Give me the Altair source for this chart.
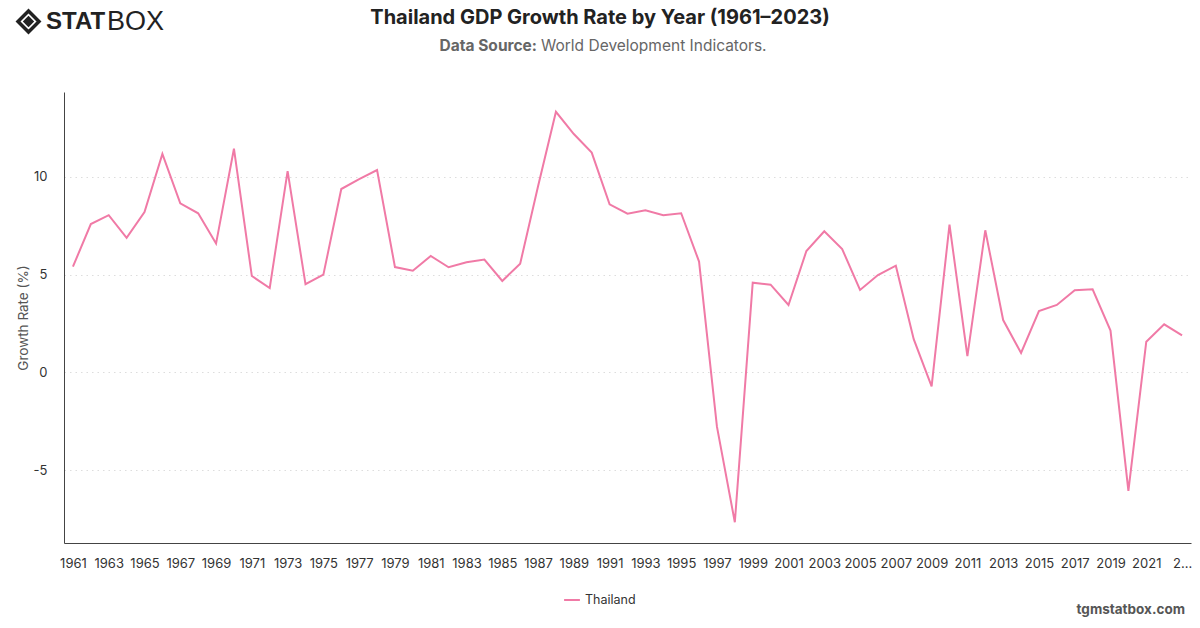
import altair as alt
import pandas as pd

# Thailand annual GDP growth (%), World Development Indicators
years = list(range(1961, 2024))
growth = [
    5.41, 7.59, 8.04, 6.88, 8.20, 11.17, 8.65, 8.14, 6.59, 11.44,
    4.93, 4.32, 10.29, 4.51, 5.00, 9.38, 9.88, 10.35, 5.39, 5.20,
    5.96, 5.38, 5.63, 5.77, 4.68, 5.56, 9.52, 13.33, 12.19, 11.24,
    8.60, 8.12, 8.29, 8.04, 8.14, 5.67, -2.77, -7.66, 4.59, 4.49,
    3.45, 6.21, 7.22, 6.31, 4.22, 4.98, 5.46, 1.70, -0.71, 7.56,
    0.83, 7.27, 2.68, 1.00, 3.14, 3.45, 4.20, 4.25, 2.14, -6.06,
    1.57, 2.46, 1.90,
]
country = "Thailand"
y_ticks = [-5, 0, 5, 10]

title_text = "Thailand GDP Growth Rate by Year (1961\u20132023)"
source_label = "Data Source:"
source_text = "World Development Indicators."
brand_bold = "STAT"
brand_light = "BOX"
site_text = "tgmstatbox.com"

LINE = "#F07AA6"
FONT = "Inter"
W, H = 1127, 451

df = pd.DataFrame({"year": years, "growth": growth, "country": country})
one = pd.DataFrame({"k": [0]})

line = alt.Chart(df).mark_line(strokeWidth=2).encode(
    x=alt.X(
        "year:O",
        scale=alt.Scale(padding=0.5),
        axis=alt.Axis(
            title=None,
            labelAngle=0,
            labelExpr="(datum.value - 1961) % 2 == 0 ? (datum.value == 2023 ? '2...' : datum.label) : ''",
            labelPadding=14,
            labelFontSize=13,
            labelColor="#333333",
            labelFont=FONT,
            labelOverlap=False,
            ticks=False,
            domainColor="#444444",
            grid=False,
        ),
    ),
    y=alt.Y(
        "growth:Q",
        scale=alt.Scale(domain=[-8.72, 14.34], nice=False, zero=False),
        axis=alt.Axis(
            title="Growth Rate (%)",
            values=y_ticks,
            labelExpr="'' + datum.value",
            labelPadding=17,
            labelFontSize=13,
            labelColor="#333333",
            labelFont=FONT,
            ticks=False,
            domainColor="#444444",
            grid=True,
            gridColor="#dddddd",
            gridDash=[1.5, 4],
            titleFont=FONT,
            titleFontSize=13.5,
            titleFontWeight="normal",
            titleColor="#555555",
            titleX=-41,
            titleY=H / 2,
            titleAngle=-90,
            titleAlign="center",
            titleBaseline="middle",
        ),
    ),
    color=alt.Color(
        "country:N",
        scale=alt.Scale(range=[LINE]),
        legend=alt.Legend(
            title=None,
            orient="none",
            legendX=499,
            legendY=499,
            direction="horizontal",
            symbolType="stroke",
            symbolStrokeWidth=2,
            symbolSize=250,
            labelFont=FONT,
            labelFontSize=12.5,
            labelColor="#333333",
        ),
    ),
)


def label(text, x, y, size, weight="normal", color="#222222", align="left", font=FONT):
    return alt.Chart(one).mark_text(
        text=text, fontSize=size, fontWeight=weight, color=color,
        align=align, baseline="middle", font=font,
    ).encode(x=alt.value(x), y=alt.value(y))


title = label(title_text, 536, -74, 20, "bold", "#222222", "center")
src_b = label(source_label, 473, -46, 15.5, "bold", "#666666", "right")
src_r = label(source_text, 477, -46, 15.5, "normal", "#666666", "left")
site = label(site_text, 1121, 518, 13.5, "bold", "#555555", "right")

# brand mark: nested diamonds followed by the word mark
logo_outer = alt.Chart(one).mark_point(
    shape="diamond", filled=False, size=440, strokeWidth=3.5, color="#222222", opacity=1
).encode(x=alt.value(-35.5), y=alt.value(-70.5))
logo_inner = alt.Chart(one).mark_point(
    shape="diamond", filled=True, size=130, color="#222222", opacity=1
).encode(x=alt.value(-35.5), y=alt.value(-70.5))
brand1 = label(brand_bold, -18, -70, 24, "bold", "#222222", "left", "Liberation Sans")
brand2 = label(brand_light, 43, -70, 27, 300, "#222222", "left", "Liberation Sans")

chart = alt.layer(
    line, title, src_b, src_r, site, logo_outer, logo_inner, brand1, brand2
).properties(
    width=W,
    height=H,
    autosize=alt.AutoSizeParams(type="none"),
    padding={"left": 64, "top": 92, "right": 9, "bottom": 85},
    background="white",
).configure_view(stroke=None)

chart.save("out.html", embed_options={"renderer": "svg", "actions": False})
